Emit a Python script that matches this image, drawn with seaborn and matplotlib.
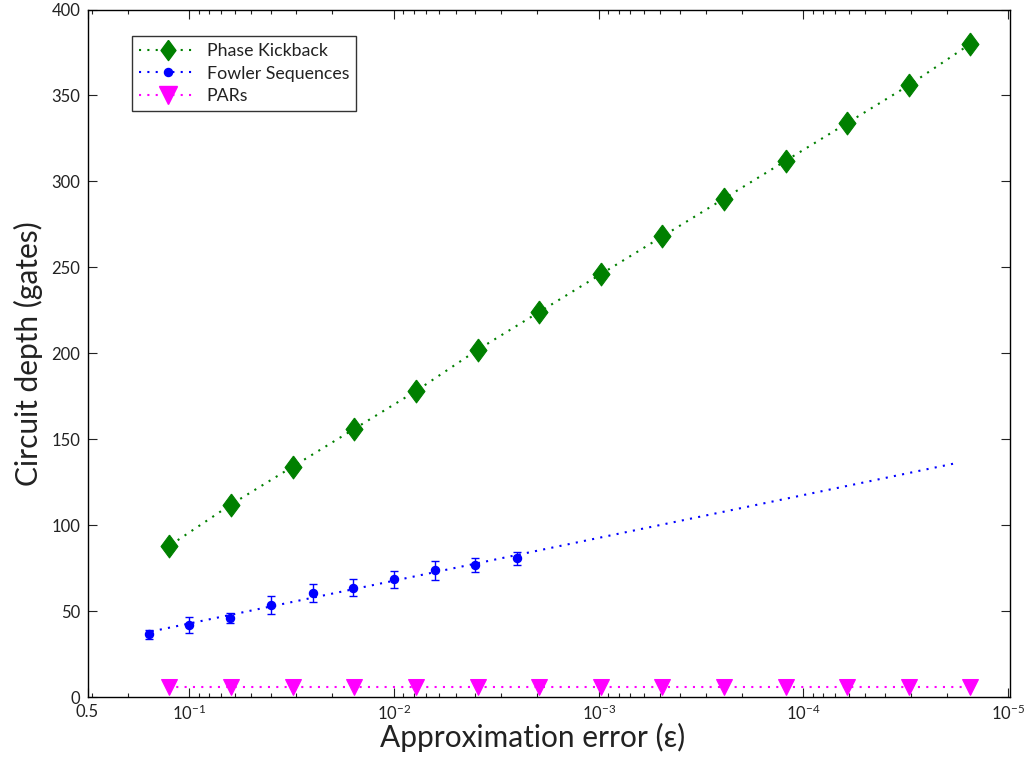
import seaborn as sns
import matplotlib.pyplot as plt
from matplotlib.lines import Line2D
from matplotlib.ticker import NullFormatter

# approximation error (epsilon) and circuit depth
kick_eps = [0.125, 0.0625, 0.03125, 0.015625, 0.0078125, 0.00390625, 0.001953,
            0.0009766, 0.0004883, 0.0002441, 0.0001221, 6.10e-05, 3.05e-05, 1.53e-05]
kick_depth = [88, 112, 134, 156, 178, 202, 224, 246, 268, 290, 312, 334, 356, 380]

fowler_eps = [0.158, 0.1, 0.063, 0.040, 0.025, 0.0158, 0.01, 0.0063, 0.0040, 0.0025]
fowler_depth = [36.5, 41.9, 46.0, 53.7, 60.7, 63.6, 68.4, 73.7, 76.9, 80.8]
fowler_err = [2.5, 4.4, 2.9, 5.2, 5.2, 5.1, 5.2, 5.4, 4.0, 3.8]

# fitted trend for the Fowler sequences
fit_eps = [0.158, 1.86e-05]
fit_depth = [37.8, 135.7]

par_eps = kick_eps
par_depth = [6, 6, 6, 6, 6, 6, 6, 6, 6, 6, 6, 6, 6, 6]

xtick_labels = ['0.5', '$10^{-1}$', '$10^{-2}$', '$10^{-3}$', '$10^{-4}$', '$10^{-5}$']

GREEN = '#008000'
BLUE = '#0000ff'
MAGENTA = '#ff00ff'
TXT = '#222222'
DOTS = (0, (1, 3))
DIAMOND = [(0, 1), (0.74, 0), (0, -1), (-0.74, 0), (0, 1)]

sns.set_style('ticks')
plt.rcParams['font.family'] = ['Lato', 'DejaVu Sans']
plt.rcParams['mathtext.fontset'] = 'custom'
plt.rcParams['mathtext.rm'] = 'Lato'
plt.rcParams['mathtext.it'] = 'Lato:italic'
plt.rcParams['mathtext.default'] = 'rm'

fig = plt.figure(figsize=(10.25, 7.59), dpi=100)
ax = fig.add_axes([87.5 / 1025, 1 - 697 / 759, (1010 - 87.5) / 1025, (697 - 9.5) / 759])

sns.lineplot(x=fit_eps, y=fit_depth, color=BLUE, linestyle=DOTS, linewidth=1.5, ax=ax)
ax.errorbar(fowler_eps, fowler_depth, yerr=fowler_err, fmt='o', color=BLUE,
            markersize=5.8, capsize=2.8, elinewidth=1, capthick=1, zorder=3)
sns.lineplot(x=kick_eps, y=kick_depth, color=GREEN, linestyle=DOTS, linewidth=1.5,
             marker=DIAMOND, markersize=16.5, markeredgecolor=GREEN, ax=ax)
sns.lineplot(x=par_eps, y=par_depth, color=MAGENTA, linestyle=DOTS, linewidth=1.5,
             marker='v', markersize=11.5, markeredgecolor=MAGENTA, ax=ax)

ax.set_xscale('log')
ax.set_xlim(0.314, 0.98e-05)
ax.set_ylim(0, 400)
ax.set_xticks([0.314, 1e-1, 1e-2, 1e-3, 1e-4, 1e-5])
ax.set_xticklabels(xtick_labels)
ax.xaxis.set_minor_formatter(NullFormatter())
ax.set_yticks(range(0, 401, 50))

ax.tick_params(which='both', direction='in', top=True, right=True, labelsize=12,
               width=0.8, color=TXT, labelcolor=TXT)
ax.tick_params(which='major', length=6.5, pad=5)
ax.tick_params(which='minor', length=3)
for s in ax.spines.values():
    s.set_linewidth(1.0)
    s.set_color('black')
    s.set_visible(True)

ax.set_xlabel('Approximation error (ε)', fontsize=21.5, color=TXT, labelpad=0)
ax.xaxis.label.set_x(0.482)
ax.set_ylabel('Circuit depth (gates)', fontsize=21.5, color=TXT, labelpad=6)

handles = [
    Line2D([], [], color=GREEN, linestyle=DOTS, linewidth=1.5, marker=DIAMOND, markersize=14.5),
    Line2D([], [], color=BLUE, linestyle=DOTS, linewidth=1.5, marker='o', markersize=5.8),
    Line2D([], [], color=MAGENTA, linestyle=DOTS, linewidth=1.5, marker='v', markersize=13.5),
]
leg = ax.legend(handles, ['Phase Kickback', 'Fowler Sequences', 'PARs'],
                loc='upper left', bbox_to_anchor=(132 / 1025, 1 - 36 / 759),
                bbox_transform=fig.transFigure, borderaxespad=0, fontsize=12.8,
                frameon=True, fancybox=False, handlelength=3.2, handletextpad=0.6,
                labelspacing=0.37, borderpad=0.4)
leg.get_frame().set_edgecolor('black')
leg.get_frame().set_linewidth(1.0)
for t in leg.get_texts():
    t.set_color(TXT)

fig.savefig('out.png', dpi=100)
